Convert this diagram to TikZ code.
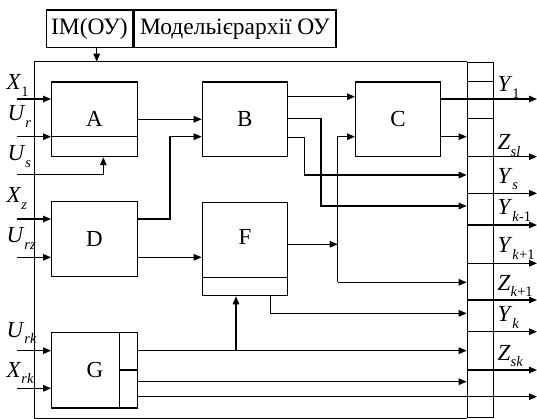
\documentclass[tikz,border=0pt]{standalone}
\usepackage{fontspec}
\setmainfont{Liberation Serif}
\usetikzlibrary{arrows.meta}
\newcommand\lsub[1]{\raisebox{-6.5pt}{\fontsize{14.5}{14.5}\selectfont #1}}
\begin{document}
\begin{tikzpicture}[x=1pt,y=-1pt,line width=1.25pt,
  arr/.style={-{Triangle[length=8pt,width=6.5pt]}},
  blk/.style={draw,anchor=north west,inner sep=0pt,font=\fontsize{23}{23}\selectfont},
  ttl/.style={draw,anchor=north west,inner sep=0pt,minimum height=37.7pt,font=\fontsize{23.5}{23.5}\selectfont},
  lbl/.style={anchor=base west,inner sep=0pt,font=\fontsize{23}{23}\selectfont},
  let/.style={inner sep=0pt,font=\fontsize{23}{23}\selectfont},
]
\useasboundingbox (0,0) rectangle (537,419);
% title
\node[ttl,minimum width=86.3pt] (t1) at (45.7,9.3) {ІМ(ОУ)};
\node[ttl,minimum width=202pt] (t2) at (t1.north east) {Модельієрархії ОУ};
% bus and frame
\node[draw,anchor=north west,minimum width=26pt,minimum height=355.3pt,inner sep=0pt] (bus) at (466.7,61.7) {};
\coordinate (fl) at (34.3,419);
\draw (fl) -- (fl |- bus.north) -- (bus.north west);
\draw (fl |- bus.south) -- (bus.south west);
\coordinate (ftop) at (96.7,61.7);
\draw[arr] (t1.south -| ftop) -- (ftop);
\draw (bus.west |- 0,81.3) -- (bus.east |- 0,81.3);
\draw (bus.west |- 0,118.3) -- (bus.east |- 0,118.3);
% blocks
\node[blk,minimum width=85.7pt,minimum height=74.7pt] (A) at (51,81.3) {A};
\node[blk,minimum width=85pt,minimum height=74.7pt] (B) at (201.7,81.3) {B};
\node[blk,minimum width=85pt,minimum height=74.7pt] (C) at (355,81.3) {C};
\node[blk,minimum width=85.7pt,minimum height=75pt] (D) at (51,201) {D};
\node[blk,minimum width=85pt,minimum height=93.3pt] (F) at (201.7,201.7) {};
\node[let] (Fl) at (245,236.7) {F};
\draw (F.west |- 0,277.3) -- (F.east |- 0,277.3);
\node[blk,minimum width=85.7pt,minimum height=75.6pt] (G) at (51,331.7) {};
\node[let] (Gl) at (95,369.5) {G};
\coordinate (gd) at (119.3,370);
\draw (gd |- G.north) -- (gd |- G.south);
\draw (gd) -- (gd -| G.east);
\draw (A.west |- 0,136.7) -- (A.east |- 0,136.7);
% inputs
\coordinate (iX1) at (17,99);
\coordinate (iUr) at (17,136.7);
\coordinate (iUs) at (17,174.3);
\coordinate (iXz) at (17,219);
\coordinate (iUrz) at (17,257.3);
\coordinate (iUrk) at (17,350.7);
\coordinate (iXrk) at (17,388.3);
\draw[arr] (iX1) -- (iX1 -| A.west);
\draw[arr] (iUr) -- (iUr -| A.west);
\draw[arr] (iUs) -| ([xshift=8.85pt]A.south);
\draw[arr] (iXz) -- (iXz -| D.west);
\draw[arr] (iUrz) -- (iUrz -| D.west);
\draw[arr] (iUrk) -- (iUrk -| G.west);
\draw[arr] (iXrk) -- (iXrk -| G.west);
\node[lbl] (lX1) at (6,90) {\textit{X}\lsub{1}};
\node[lbl] (lUr) at (7,120.7) {\textit{U}\lsub{\textit{r}}};
\node[lbl] (lUs) at (7,160.7) {\textit{U}\lsub{\textit{s}}};
\node[lbl] (lXz) at (6,203) {\textit{X}\lsub{\textit{z}}};
\node[lbl] (lUrz) at (6,243) {\textit{U}\lsub{\textit{rz}}};
\node[lbl] (lUrk) at (6,337) {\textit{U}\lsub{\textit{rk}}};
\node[lbl] (lXrk) at (6,377) {\textit{X}\lsub{\textit{rk}}};
% internal connections
\draw[arr] (A.east) -- (A.east -| B.west);
\draw[arr] (D.east |- 0,219) -| (170,136.7) -- (B.west |- 0,136.7);
\draw[arr] (D.east |- 0,257.3) -- (F.west |- 0,257.3);
\draw[arr] (B.east |- 0,96.7) -- (C.west |- 0,96.7);
\draw[arr] (B.east |- 0,137.3) -| (304.3,175) -- (bus.west |- 0,175);
\draw[arr] (B.east |- 0,118.3) -| (321,206) -- (bus.west |- 0,206);
\coordinate (fj) at (337.7,282.3);
\draw[arr] (F.east |- 0,244.3) -- (fj |- 0,244.3);
\draw[arr] (fj) |- (C.west |- 0,136.7);
\draw[arr] (fj) -- (fj -| bus.west);
\draw[arr] ([xshift=25.8pt]F.south) |- (bus.west |- 0,313.3);
\coordinate (gj) at (236,350.7);
\draw[arr] (gj) -- (gj |- F.south);
\draw[arr] (G.east |- 0,350.7) -- (bus.west |- 0,350.7);
\draw[arr] (G.east |- 0,381.7) -- (bus.west |- 0,381.7);
\coordinate (oEnd) at (537,0);
\draw[arr] (G.east |- 0,396.7) -- (oEnd |- 0,396.7);
\draw[arr] (C.east |- 0,99) -- (oEnd |- 0,99);
\draw[arr] (C.east |- 0,136.7) -- (bus.west |- 0,136.7);
% bus outputs
\foreach \yy in {156.7,193.3,225,263.3,300,331.7,370}
  \draw[arr] (bus.west |- 0,\yy) -- (oEnd |- 0,\yy);
% output labels
\node[lbl] (lY1) at (497,92) {\textit{Y}\lsub{1}};
\node[lbl] (lZsl) at (497,150) {\textit{Z}\lsub{\textit{sl}}};
\node[lbl] (lYs) at (497,183.3) {\textit{Y}\lsub{\textit{s}}};
\node[lbl] (lYkm) at (497,215) {\textit{Y}\lsub{\textit{k}-1}};
\node[lbl] (lYkp) at (497,253) {\textit{Y}\lsub{\textit{k}+1}};
\node[lbl] (lZkp) at (497,290) {\textit{Z}\lsub{\textit{k}+1}};
\node[lbl] (lYk) at (497,321.7) {\textit{Y}\lsub{\textit{k}}};
\node[lbl] (lZsk) at (497,360) {\textit{Z}\lsub{\textit{sk}}};
\end{tikzpicture}
\end{document}
